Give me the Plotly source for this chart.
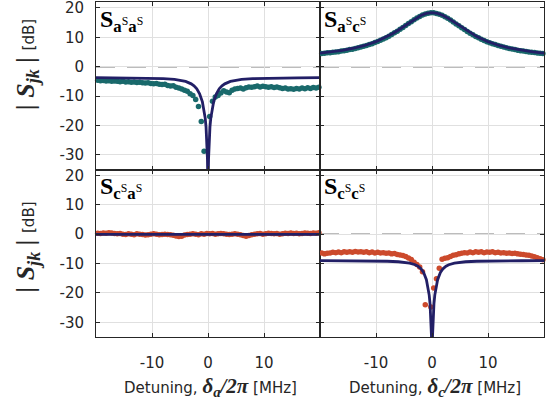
import plotly.graph_objects as go
from plotly.subplots import make_subplots

# ---------------- data ----------------
x_data = [-19.7, -19.2, -18.7, -18.2, -17.7, -17.2, -16.7, -16.2, -15.7, -15.2,
          -14.7, -14.2, -13.7, -13.2, -12.7, -12.2, -11.7, -11.2, -10.7, -10.2,
          -9.7, -9.2, -8.7, -8.2, -7.7, -7.2, -6.7, -6.2, -5.7, -5.2,
          -4.7, -4.2, -3.7, -3.2, -2.7, -2.2, -1.7, -1.2, -0.7, -0.2,
          0.3, 0.8, 1.3, 1.8, 2.3, 2.8, 3.3, 3.8, 4.3, 4.8,
          5.3, 5.8, 6.3, 6.8, 7.3, 7.8, 8.3, 8.8, 9.3, 9.8,
          10.3, 10.8, 11.3, 11.8, 12.3, 12.8, 13.3, 13.8, 14.3, 14.8,
          15.3, 15.8, 16.3, 16.8, 17.3, 17.8, 18.3, 18.8, 19.3, 19.8]

s_aa_data = [-4.6, -4.8, -4.7, -4.9, -4.8, -5.0, -4.9, -5.0, -5.1, -5.0,
             -5.2, -5.1, -5.3, -5.2, -5.4, -5.3, -5.5, -5.6, -5.5, -5.7,
             -5.8, -5.7, -6.0, -6.1, -6.0, -6.4, -6.6, -6.5, -7.0, -7.3,
             -7.6, -8.0, -8.4, -9.2, -9.8, -11.2, -13.6, -18.7, -28.8, None,
             -17.0, -11.8, -10.3, -9.8, -9.0, -8.2, -8.6, -8.9, -8.0, -7.6,
             -7.4, -7.3, -7.6, -7.2, -6.9, -7.0, -6.8, -6.6, -6.9, -6.7,
             -6.8, -7.0, -6.8, -7.1, -6.9, -7.2, -7.4, -7.3, -7.6, -7.5,
             -7.7, -7.4, -7.6, -7.3, -7.5, -7.2, -7.4, -7.1, -7.3, -7.0]

s_ac_data = [4.5, 4.55, 4.7, 4.75, 4.9, 5.0, 5.1, 5.3, 5.45, 5.6,
             5.8, 5.95, 6.2, 6.4, 6.65, 6.9, 7.2, 7.5, 7.8, 8.2,
             8.55, 8.95, 9.4, 9.85, 10.35, 10.9, 11.5, 12.05, 12.7, 13.35,
             14.0, 14.65, 15.3, 15.95, 16.55, 17.1, 17.55, 17.9, 18.2, 18.3,
             18.3, 18.1, 17.85, 17.45, 17.0, 16.45, 15.85, 15.2, 14.55, 13.9,
             13.25, 12.6, 12.0, 11.4, 10.85, 10.3, 9.8, 9.35, 8.9, 8.5,
             8.15, 7.8, 7.5, 7.2, 6.9, 6.65, 6.4, 6.2, 6.0, 5.8,
             5.6, 5.45, 5.3, 5.15, 5.0, 4.9, 4.8, 4.65, 4.55, 4.45]

s_ca_data = [0.3, 0.2, 0.4, 0.3, 0.5, 0.4, 0.2, 0.1, 0.2, 0.0,
             -0.1, 0.1, 0.0, -0.2, 0.1, 0.0, -0.1, -0.3, -0.2, 0.0,
             0.1, 0.0, -0.2, -0.1, 0.0, -0.1, -0.2, -0.4, -0.6, -0.8,
             -0.7, -0.3, -0.1, 0.0, 0.1, 0.0, -0.2, 0.1, 0.0, 0.2,
             0.1, 0.2, 0.0, 0.1, 0.2, 0.1, 0.0, -0.1, 0.0, 0.1,
             0.0, -0.2, -0.5, -0.7, -0.5, -0.2, 0.0, 0.1, 0.2, 0.0,
             0.1, 0.3, 0.2, 0.1, 0.2, 0.0, 0.1, 0.3, 0.2, 0.4,
             0.2, 0.3, 0.1, 0.2, 0.4, 0.3, 0.2, 0.4, 0.3, 0.5]

s_cc_data = [-6.4, -6.7, -6.5, -6.4, -6.2, -6.3, -6.1, -6.3, -6.0, -6.2,
             -6.0, -6.2, -5.9, -6.1, -6.0, -6.2, -6.0, -6.3, -6.1, -6.4,
             -6.2, -6.4, -6.3, -6.5, -6.4, -6.7, -6.6, -6.9, -7.1, -7.3,
             -7.6, -8.1, -8.6, -9.6, -10.3, -11.2, -12.8, -24.0, None, -24.8,
             -18.3, -15.2, -11.6, -8.5, -8.2, -8.0, -7.6, -7.2, -7.0, -6.7,
             -6.5, -6.3, -6.4, -6.1, -6.3, -6.0, -6.2, -6.0, -6.3, -6.1,
             -6.2, -6.0, -6.3, -6.2, -6.4, -6.3, -6.5, -6.4, -6.6, -6.5,
             -6.7, -6.8, -6.9, -7.1, -7.2, -7.4, -7.7, -8.0, -8.4, -8.7]

x_fit_dip = [-20, -16, -12, -10, -8, -6, -5, -4, -3, -2.5, -2, -1.5, -1, -0.75, -0.5,
             -0.35, -0.25, -0.15, -0.1, -0.05, 0, 0.05, 0.1, 0.15, 0.25, 0.35,
             0.5, 0.75, 1, 1.5, 2, 2.5, 3, 4, 5, 6, 8, 10, 12, 16, 20]
s_aa_fit = [-3.76, -3.80, -3.87, -3.94, -4.07, -4.35, -4.60, -5.04, -5.85, -6.54, -7.57,
            -9.21, -12.0, -14.2, -17.5, -20.5, -23.4, -27.8, -31.3, -37.3, -60,
            -37.3, -31.3, -27.8, -23.4, -20.5, -17.5, -14.2, -12.0, -9.21, -7.57,
            -6.54, -5.85, -5.04, -4.60, -4.35, -4.07, -3.94, -3.87, -3.80, -3.76]
s_cc_fit = [-9.04, -9.06, -9.10, -9.15, -9.23, -9.40, -9.56, -9.85, -10.42, -10.92, -11.71,
            -13.05, -15.50, -17.56, -20.73, -23.67, -26.52, -30.91, -34.42, -40.4, -60,
            -40.4, -34.42, -30.91, -26.52, -23.67, -20.73, -17.56, -15.50, -13.05, -11.71,
            -10.92, -10.42, -9.85, -9.56, -9.40, -9.23, -9.15, -9.10, -9.06, -9.04]

x_fit_peak = [-20, -18, -16, -14, -12, -10, -8, -7, -6, -5, -4, -3, -2, -1, 0,
              1, 2, 3, 4, 5, 6, 7, 8, 10, 12, 14, 16, 18, 20]
s_ac_fit = [4.59, 5.0, 5.54, 6.26, 7.21, 8.5, 10.23, 11.29, 12.47, 13.76, 15.08, 16.34,
            17.42, 18.14, 18.4, 18.14, 17.42, 16.34, 15.08, 13.76, 12.47, 11.29, 10.23,
            8.5, 7.21, 6.26, 5.54, 5.0, 4.59]

x_fit_flat = [-20, -10, 0, 10, 20]
s_ca_fit = [-0.05, -0.05, -0.05, -0.05, -0.05]

x_ticks = [-10, 0, 10]
x_tick_labels = ["-10", "0", "10"]
y_ticks = [-30, -20, -10, 0, 10, 20]
y_tick_labels = ["-30", "-20", "-10", "0", "10", "20"]

# ---------------- style ----------------
TEAL = "#19696b"
NAVY = "#221f66"
RED = "#cc4a2c"
TXT = "#262626"
SANS = "DejaVu Sans, sans-serif"
SERIF = "Liberation Serif, DejaVu Serif, serif"

fig = make_subplots(rows=2, cols=2, horizontal_spacing=0, vertical_spacing=0)

panels = [
    (1, 1, s_aa_data, TEAL, x_fit_dip, s_aa_fit),
    (1, 2, s_ac_data, TEAL, x_fit_peak, s_ac_fit),
    (2, 1, s_ca_data, RED, x_fit_flat, s_ca_fit),
    (2, 2, s_cc_data, RED, x_fit_dip, s_cc_fit),
]
for r, c, yd, col, xf, yf in panels:
    fig.add_trace(go.Scatter(x=x_data, y=yd, mode="markers",
                             marker=dict(color=col, size=5.5, line=dict(width=0)),
                             cliponaxis=False, showlegend=False), row=r, col=c)
    fig.add_trace(go.Scatter(x=xf, y=yf, mode="lines",
                             line=dict(color=NAVY, width=2.8),
                             showlegend=False), row=r, col=c)
    fig.add_hline(y=0, line=dict(color="#7a7a7a", width=1.5, dash="19px,12px"),
                  layer="below", row=r, col=c)

axis_common = dict(showline=True, linecolor=TXT, linewidth=1, mirror="ticks",
                   ticks="inside", ticklen=4, tickcolor=TXT, tickwidth=1,
                   showgrid=True, gridcolor="#e0e0e0", gridwidth=1, zeroline=False,
                   automargin=False, ticklabeloverflow="allow",
                   tickfont=dict(family=SANS, size=15, color=TXT))
for r in (1, 2):
    for c in (1, 2):
        fig.update_xaxes(range=[-20, 20], tickvals=x_ticks, ticktext=x_tick_labels,
                         showticklabels=(r == 2),
                         ticklabelstandoff=12, row=r, col=c, **axis_common)
        fig.update_yaxes(range=[-35, 22], tickvals=y_ticks, ticktext=y_tick_labels,
                         showticklabels=(c == 1),
                         ticklabelstandoff=8, row=r, col=c, **axis_common)

fig.update_layout(template="none", width=558, height=404, autosize=False,
                  margin=dict(l=96, r=14, t=2, b=66.5, pad=0),
                  plot_bgcolor="white", paper_bgcolor="white")

# panel labels
labels = [
    ("x domain", "y domain", "a", "a"),
    ("x2 domain", "y2 domain", "a", "c"),
    ("x3 domain", "y3 domain", "c", "a"),
    ("x4 domain", "y4 domain", "c", "c"),
]
for xr, yr, j, k in labels:
    txt = ("<b>S</b><sub><b>%s</b><sup>S</sup><b>%s</b><sup>S</sup></sub>" % (j, k))
    fig.add_annotation(xref=xr, yref=yr, x=0.01, y=0.99, xanchor="left", yanchor="top",
                       text=txt, showarrow=False,
                       font=dict(family=SERIF, size=24, color="black"))

# y titles
ytitle = ("<b><i>| S<sub>jk</sub> |</i></b> "
          "<span style='font-family:DejaVu Sans;font-size:15px'>[dB]</span>")
for yc in (0.812, 0.267):
    fig.add_annotation(xref="paper", yref="paper", x=-0.154, y=yc,
                       xanchor="center", yanchor="middle", textangle=-90,
                       text=ytitle, showarrow=False,
                       font=dict(family=SERIF, size=26, color=TXT))

# x titles
for xc, sub in ((0.255, "a"), (0.757, "c")):
    fig.add_annotation(xref="paper", yref="paper", x=xc, y=-0.148,
                       xanchor="center", yanchor="middle",
                       text=("Detuning, <span style='font-family:Liberation Serif;font-size:21px'><b><i>δ<sub>%s</sub>/2π</i></b></span> [MHz]" % sub),
                       showarrow=False,
                       font=dict(family=SANS, size=15, color=TXT))

fig.write_html("out.html", config={"displayModeBar": False},
               post_script="document.body.style.margin='0';document.body.style.overflow='hidden';")
